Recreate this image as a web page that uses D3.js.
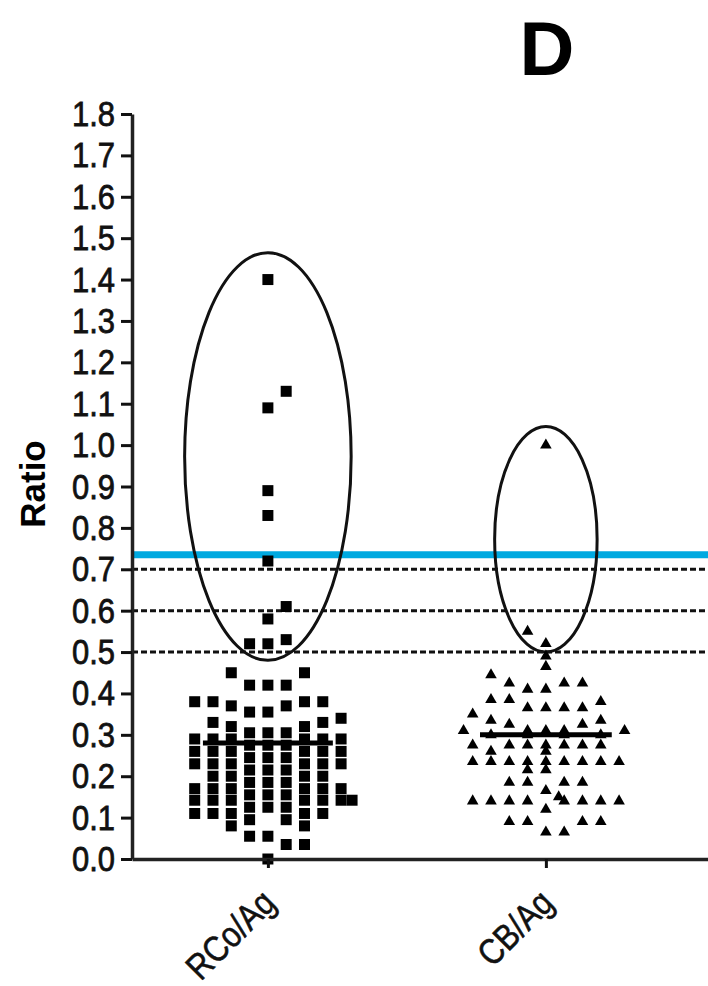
<!DOCTYPE html>
<html><head><meta charset="utf-8">
<script src="https://cdn.jsdelivr.net/npm/d3@7"></script>
<style>html,body{margin:0;padding:0;background:#fff;}svg{display:block;}</style>
</head><body>
<script>
// ---- data ----
const categories = ["RCo/Ag", "CB/Ag"];
const yTicks = [0,0.1,0.2,0.3,0.4,0.5,0.6,0.7,0.8,0.9,1.0,1.1,1.2,1.3,1.4,1.5,1.6,1.7,1.8];
const panelLabel = "D";
const yLabel = "Ratio";

// RCo/Ag ratios and their beeswarm column slot
const rcoValues = [1.40,1.13,1.09,0.89,0.83,0.72,0.61,0.58,0.53,0.52,0.52,
  0.45,0.45,0.42,0.42,0.42,0.38,0.38,0.38,0.38,0.37,0.37,0.355,0.355,0.34,0.33,0.33,0.32,0.32,
  0.305,0.305,0.305,
  0.29,0.29,0.29,0.29,0.29,0.29,
  0.275,0.275,0.275,
  0.26,0.26,0.26,0.26,0.26,0.26,
  0.245,0.245,0.245,
  0.23,0.23,0.23,0.23,0.23,0.23,
  0.215,0.215,0.215,
  0.2,0.2,0.2,0.2,
  0.185,0.185,0.185,
  0.17,0.17,0.17,0.17,0.17,0.17,
  0.155,0.155,0.155,
  0.142,0.142,0.142,0.142,0.142,0.142,0.142,
  0.125,0.125,0.125,
  0.11,0.11,0.11,0.11,0.11,
  0.095,0.095,0.08,0.08,
  0.055,0.055,0.035,0.035,0.0];
const rcoSlots = [0,1,0,0,0,0,1,0,1,-1,0,
  -2,2,-1,0,1,-4,-3,2,3,-2,1,-1,0,4,-3,3,-2,2,
  -1,0,1,
  -4,-3,-2,2,3,4,
  -1,0,1,
  -4,-3,-2,2,3,4,
  -1,0,1,
  -4,-3,-2,2,3,4,
  -1,0,1,
  -3,-2,2,3,
  -1,0,1,
  -4,-3,-2,2,3,4,
  -1,0,1,
  -4,-3,-2,2,3,4,4.6,
  -1,0,1,
  -4,-3,-2,2,3,
  -1,1,-2,2,
  -1,0,1,2,0];

// CB/Ag ratios and slots
const cbValues = [1.00,0.55,0.52,0.49,0.465,0.445,0.425,0.425,0.425,0.41,0.41,
  0.385,0.385,0.38,0.365,0.365,0.365,0.365,0.35,0.335,0.335,0.325,0.325,
  0.31,0.31,0.31,0.31,0.31,0.30,0.30,0.30,0.30,
  0.275,0.275,0.275,0.275,0.275,0.275,0.275,0.26,0.26,
  0.235,0.235,0.235,0.235,0.235,0.235,0.235,0.235,0.235,0.215,0.215,
  0.185,0.185,0.185,0.185,0.165,0.15,
  0.14,0.14,0.14,0.14,0.14,0.14,0.14,0.14,0.12,0.09,0.09,0.09,0.09,0.065,0.065];
const cbSlots = [0,-1,0,0,0,-3,-2,1,2,-1,0,
  -3,-2,3,-1,0,1,2,-4,-3,3,-2,2,
  -4.5,-1,0,1,4.3,-3,-1,1,3,
  -4,-2,-1,0,1,2,3,-3,0,
  -4,-3,-2,-1,0,1,2,3,4,-1,0,
  -2,-1,1,2,0,0.7,
  -4,-3,-2,-1,1,2,3,4,0,-2,-1,2,3,0,1];

const medians = [0.28, 0.30];
const medianHalfWidth = [3.55, 3.6];         // in slot units
const cutoffs = [0.5, 0.6, 0.7];             // dashed reference lines
const blueLine = 0.735;
// ellipses: [category, low, high, half-width in slots]
const ellipseCats = ["RCo/Ag", "CB/Ag"];
const ellipseLow = [0.48, 0.50];
const ellipseHigh = [1.465, 1.045];
const ellipseHalfW = [4.55, 2.8];

// ---- drawing ----
const W = 708, H = 986;
const svg = d3.select("body").append("svg").attr("width", W).attr("height", H);

const y = d3.scaleLinear().domain([0, 1.8]).range([859, 114]);
const x = d3.scalePoint().domain(categories).range([132, 708]).padding(0.536).align(0.456);
const slot = d3.scaleLinear().domain([0, 1]).range([0, 18.3]);

const FONT = "'Liberation Sans', Arial, sans-serif";
const SX = 0.86;

// title
svg.append("text").attr("x", 547).attr("y", 75).attr("text-anchor", "middle")
  .attr("font-family", FONT).attr("font-weight", "bold").attr("font-size", 76)
  .attr("fill", "#000").text(panelLabel);

// y label
svg.append("text").attr("transform", "translate(45,484) rotate(-90)")
  .attr("text-anchor", "middle").attr("font-family", FONT).attr("font-weight", "bold")
  .attr("font-size", 35).attr("fill", "#000").text(yLabel);

// reference lines
svg.append("g").selectAll("line").data(cutoffs).join("line")
  .attr("x1", 132).attr("x2", 708).attr("y1", d => y(d)).attr("y2", d => y(d))
  .attr("stroke", "#111").attr("stroke-width", 3).attr("stroke-dasharray", "6,3");
svg.append("line").attr("x1", 132).attr("x2", 708).attr("y1", y(blueLine)).attr("y2", y(blueLine))
  .attr("stroke", "#00a9e0").attr("stroke-width", 7);

// ellipses
svg.append("g").selectAll("ellipse").data(ellipseCats).join("ellipse")
  .attr("cx", (d, i) => x(d))
  .attr("cy", (d, i) => (y(ellipseLow[i]) + y(ellipseHigh[i])) / 2)
  .attr("rx", (d, i) => slot(ellipseHalfW[i]))
  .attr("ry", (d, i) => (y(ellipseLow[i]) - y(ellipseHigh[i])) / 2)
  .attr("fill", "none").attr("stroke", "#111").attr("stroke-width", 3);

// points
const sq = d3.symbol().type(d3.symbolSquare).size(121)();
const tri = d3.symbol().type(d3.symbolTriangle).size(58)();
svg.append("g").selectAll("path").data(rcoValues).join("path")
  .attr("d", sq)
  .attr("transform", (d, i) => `translate(${x("RCo/Ag") + slot(rcoSlots[i])},${y(d)})`)
  .attr("fill", "#000");
svg.append("g").selectAll("path").data(cbValues).join("path")
  .attr("d", tri)
  .attr("transform", (d, i) => `translate(${x("CB/Ag") + slot(cbSlots[i])},${y(d)})`)
  .attr("fill", "#000");

// median lines
svg.append("g").selectAll("line").data(medians).join("line")
  .attr("x1", (d, i) => x(categories[i]) - slot(medianHalfWidth[i]))
  .attr("x2", (d, i) => x(categories[i]) + slot(medianHalfWidth[i]))
  .attr("y1", d => y(d)).attr("y2", d => y(d))
  .attr("stroke", "#000").attr("stroke-width", 5);

// y axis
const gy = svg.append("g").attr("transform", "translate(132,0)")
  .call(d3.axisLeft(y).tickValues(yTicks).tickFormat(d3.format(".1f")).tickSize(11).tickSizeOuter(0));
gy.select(".domain").attr("stroke", "#222").attr("stroke-width", 3.5);
gy.selectAll(".tick line").attr("stroke", "#111").attr("stroke-width", 3);
gy.selectAll(".tick text").attr("font-family", FONT).attr("font-size", 36)
  .attr("fill", "#111").attr("stroke", "#111").attr("stroke-width", 0.8)
  .attr("transform", `scale(${SX},1)`).attr("x", -17 / SX);

// x axis
const gx = svg.append("g").attr("transform", "translate(0,859)")
  .call(d3.axisBottom(x).tickSize(9).tickSizeOuter(0));
gx.select(".domain").attr("stroke", "#222").attr("stroke-width", 3.5);
gx.selectAll(".tick line").attr("stroke", "#111").attr("stroke-width", 3);
gx.selectAll(".tick text")
  .attr("font-family", FONT).attr("font-size", 36).attr("fill", "#111")
  .attr("stroke", "#111").attr("stroke-width", 0.6)
  .attr("text-anchor", "end").attr("dy", 0).attr("y", 0)
  .attr("transform", `translate(9,46) rotate(-45) scale(${SX},1)`);
</script>
</body></html>
